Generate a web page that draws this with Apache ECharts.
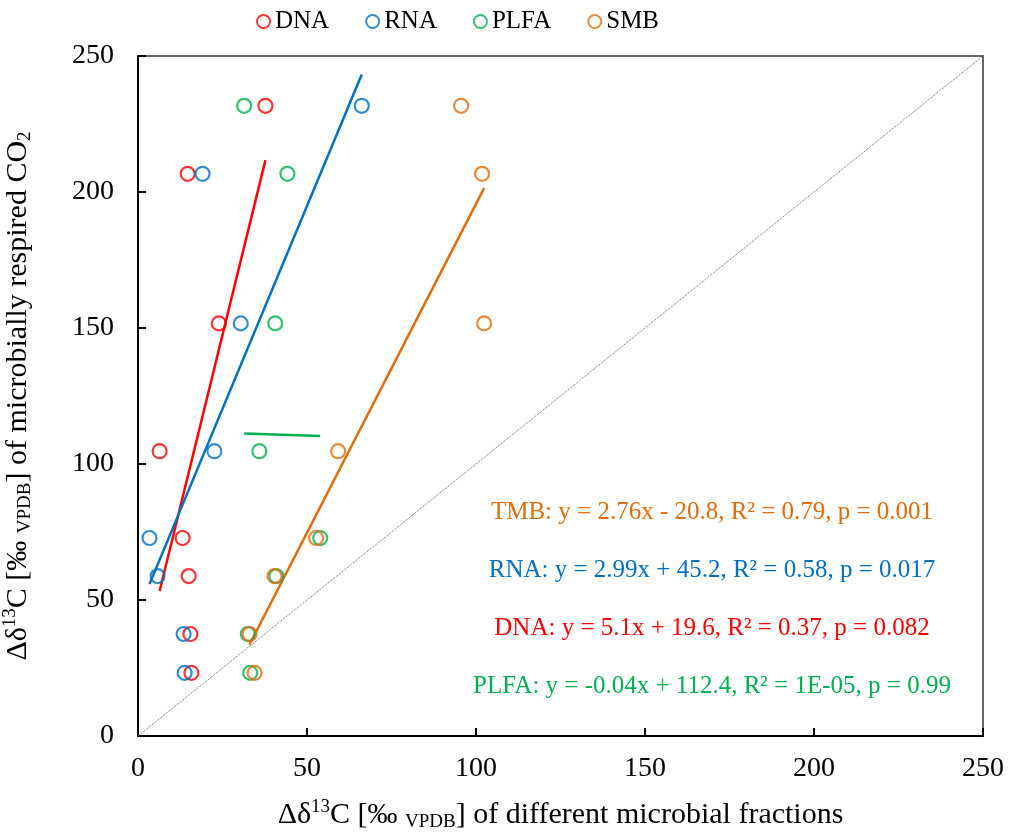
<!DOCTYPE html>
<html>
<head>
<meta charset="utf-8">
<script src="https://cdn.jsdelivr.net/npm/echarts@6/dist/echarts.min.js"></script>
<style>
  html, body { margin: 0; padding: 0; background: #fff; }
  #chart { width: 1011px; height: 836px; }
</style>
</head>
<body>
<div id="chart"></div>
<script>
// values (one y level per sampling time, shared by all fractions)
const respiredCO2 = [231.7, 206.7, 151.7, 104.7, 72.8, 58.8, 37.5, 23.2];
const dnaX = [37.7, 14.7, 23.9, 6.4, 13.2, 15.0, 15.5, 15.8];
const rnaX = [66.2, 19.1, 30.4, 22.6, 3.4, 5.8, 13.5, 13.8];
const plfaX = [31.4, 44.2, 40.6, 35.9, 53.9, 40.9, 32.5, 33.2];
const smbX = [95.6, 101.8, 102.4, 59.2, 52.7, 40.4, 33.0, 34.5];

const seriesNames = ["DNA", "RNA", "PLFA", "SMB"];
const seriesX = [dnaX, rnaX, plfaX, smbX];
const seriesColors = ["#ff0000", "#0070c0", "#00b050", "#e36c0a"];

const axisMin = 0;
const axisMax = 250;
const tickStep = 50;
const oneToOne = [0, 250];

// equation labels, top to bottom
const eqTexts = [
  "TMB: y = 2.76x - 20.8, R² = 0.79, p = 0.001",
  "RNA: y = 2.99x + 45.2, R² = 0.58, p = 0.017",
  "DNA: y = 5.1x + 19.6, R² = 0.37, p = 0.082",
  "PLFA: y = -0.04x + 112.4, R² = 1E-05, p = 0.99",
];
const eqColors = ["#e36c0a", "#0070c0", "#ff0000", "#00b050"];

const FONT = "'Liberation Serif', 'Times New Roman', serif";

// least squares trend line over the x range of the data
function trend(xs, ys) {
  const n = xs.length;
  const mx = xs.reduce((a, b) => a + b, 0) / n;
  const my = ys.reduce((a, b) => a + b, 0) / n;
  let sxy = 0, sxx = 0;
  xs.forEach((x, i) => {
    sxy += (x - mx) * (ys[i] - my);
    sxx += (x - mx) * (x - mx);
  });
  const k = sxy / sxx;
  const b = my - k * mx;
  const x0 = Math.min(...xs);
  const x1 = Math.max(...xs);
  return [[x0, k * x0 + b], [x1, k * x1 + b]];
}

const chart = echarts.init(document.getElementById("chart"));

const series = [];
// 1:1 line
series.push({
  type: "line",
  data: [[oneToOne[0], oneToOne[0]], [oneToOne[1], oneToOne[1]]],
  symbol: "none",
  silent: true,
  lineStyle: { color: "#666", width: 1, type: "dotted" },
  z: 1,
});
seriesNames.forEach((name, i) => {
  series.push({
    type: "line",
    data: trend(seriesX[i], respiredCO2),
    symbol: "none",
    silent: true,
    lineStyle: { color: seriesColors[i], width: 2.5 },
    z: 2,
  });
});
seriesNames.forEach((name, i) => {
  series.push({
    name: name,
    type: "scatter",
    data: seriesX[i].map((x, j) => [x, respiredCO2[j]]),
    symbol: "circle",
    symbolSize: 14,
    itemStyle: {
      color: "rgba(255,255,255,0)",
      borderColor: seriesColors[i],
      borderWidth: 2.2,
    },
    z: 3 + i,
  });
});

const nameRich = {
  sup: { fontSize: 19, fontFamily: FONT, color: "#000", verticalAlign: "top", lineHeight: 21 },
  sub: { fontSize: 19, fontFamily: FONT, color: "#000", verticalAlign: "bottom", lineHeight: 21 },
};

chart.setOption({
  animation: false,
  backgroundColor: "#fff",
  grid: {
    left: 138,
    right: 28,
    top: 56,
    bottom: 100,
    outerBoundsMode: "none",
    containLabel: false,
    show: true,
    borderColor: "#333",
    borderWidth: 1.5,
  },
  legend: {
    data: seriesNames,
    left: 251,
    top: 4,
    icon: "circle",
    itemWidth: 13,
    itemHeight: 13,
    itemGap: 36,
    textStyle: { fontFamily: FONT, fontSize: 25, color: "#000" },
  },
  xAxis: {
    type: "value",
    min: axisMin,
    max: axisMax,
    interval: tickStep,
    splitLine: { show: false },
    axisLine: { lineStyle: { color: "#000", width: 2 } },
    axisTick: { inside: true, length: 8, lineStyle: { color: "#000", width: 2 } },
    axisLabel: { fontFamily: FONT, fontSize: 28, color: "#000", margin: 19 },
    name: "Δδ{sup|13}C [‰ {sub|VPDB}] of different microbial fractions",
    nameLocation: "middle",
    nameGap: 62,
    nameTextStyle: { fontFamily: FONT, fontSize: 30, color: "#000", lineHeight: 34, rich: nameRich },
  },
  yAxis: {
    type: "value",
    min: axisMin,
    max: axisMax,
    interval: tickStep,
    splitLine: { show: false },
    axisLine: { lineStyle: { color: "#000", width: 2 } },
    axisTick: { inside: true, length: 8, lineStyle: { color: "#000", width: 2 } },
    axisLabel: { fontFamily: FONT, fontSize: 28, color: "#000", margin: 24 },
    name: "Δδ{sup|13}C [‰ {sub|VPDB}] of microbially respired CO{sub|2}",
    nameLocation: "middle",
    nameRotate: 90,
    nameGap: 103,
    nameTextStyle: { fontFamily: FONT, fontSize: 30, color: "#000", lineHeight: 34, rich: nameRich },
  },
  graphic: eqTexts.map((t, i) => ({
    type: "text",
    x: 712,
    y: 512 + i * 58,
    style: {
      text: t,
      fill: eqColors[i],
      font: "25px " + FONT,
      align: "center",
      verticalAlign: "middle",
      textAlign: "center",
      textVerticalAlign: "middle",
    },
  })),
  series: series,
});
</script>
</body>
</html>
